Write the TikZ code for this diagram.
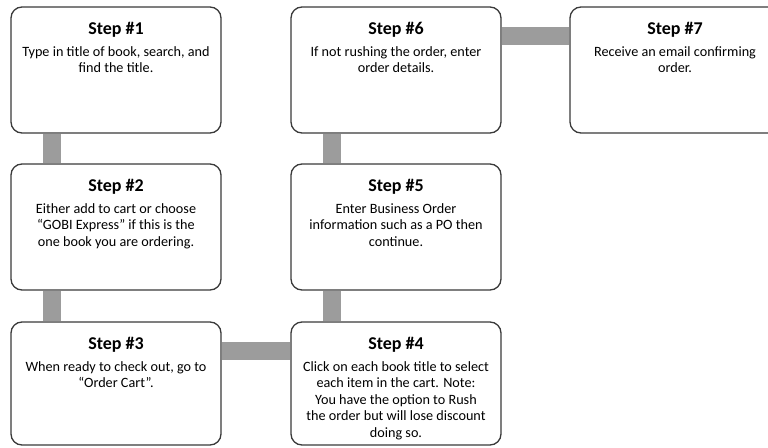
\documentclass[tikz,border=0pt]{standalone}
\usepackage{fontspec}
\setmainfont{Carlito}
\usetikzlibrary{backgrounds}
\definecolor{boxline}{HTML}{3A3A3A}
\definecolor{connfill}{HTML}{9C9C9C}
\begin{document}
\begin{tikzpicture}[x=1pt,y=-1pt,
  stepbox/.style={draw=boxline, line width=1.3pt, rounded corners=11pt, fill=white,
    minimum width=210pt, inner sep=0pt},
  tall/.style={minimum height=126pt},
  short/.style={minimum height=123pt},
  titletext/.style={anchor=base, font=\fontsize{18}{20}\selectfont\bfseries, inner sep=0pt},
  bodytext/.style={anchor=north, align=center, font=\fontsize{14.2}{16.5}\selectfont, inner sep=0pt},
  conn/.style={draw=connfill, line width=18pt}
]
\useasboundingbox (0,0) rectangle (768,447);
\node[stepbox,tall]  (b1) at (116,70)  {};
\node[stepbox,tall]  (b2) at (116,227) {};
\node[stepbox,short] (b3) at (116,383.5) {};
\node[stepbox,short] (b4) at (396,383.5) {};
\node[stepbox,tall]  (b5) at (396,227) {};
\node[stepbox,tall]  (b6) at (396,70)  {};
\node[stepbox,tall]  (b7) at (675,70)  {};

\node[titletext] (t1) at ([yshift=-28.5pt]b1.north) {Step \#1};
\node[titletext] (t2) at ([yshift=-28.5pt]b2.north) {Step \#2};
\node[titletext] (t3) at ([yshift=-28.5pt]b3.north) {Step \#3};
\node[titletext] (t4) at ([yshift=-28.5pt]b4.north) {Step \#4};
\node[titletext] (t5) at ([yshift=-28.5pt]b5.north) {Step \#5};
\node[titletext] (t6) at ([yshift=-28.5pt]b6.north) {Step \#6};
\node[titletext] (t7) at ([yshift=-28.5pt]b7.north) {Step \#7};

\node[bodytext] (d1) at ([yshift=-40pt]b1.north) {Type in title of book, search, and\\find the title.};
\node[bodytext] (d2) at ([yshift=-40pt]b2.north) {Either add to cart or choose\\“GOBI Express” if this is the\\one book you are ordering.};
\node[bodytext] (d3) at ([yshift=-40pt]b3.north) {When ready to check out, go to\\“Order Cart”.};
\node[bodytext] (d4) at ([yshift=-40pt]b4.north) {Click on each book title to select\\each item in the cart. Note:\\You have the option to Rush\\the order but will lose discount\\doing so.};
\node[bodytext] (d5) at ([yshift=-40pt]b5.north) {Enter Business Order\\information such as a PO then\\continue.};
\node[bodytext] (d6) at ([yshift=-40pt]b6.north) {If not rushing the order, enter\\order details.};
\node[bodytext] (d7) at ([yshift=-40pt]b7.north) {Receive an email confirming\\order.};

\begin{scope}[on background layer]
  \draw[conn] ([xshift=42pt]b1.south west) -- ([xshift=42pt]b2.north west);
  \draw[conn] ([xshift=42pt]b2.south west) -- ([xshift=42pt]b3.north west);
  \draw[conn] ([yshift=-30pt]b3.north east) -- ([yshift=-30pt]b4.north west);
  \draw[conn] ([xshift=41.5pt]b4.north west) -- ([xshift=41.5pt]b5.south west);
  \draw[conn] ([xshift=41.5pt]b5.north west) -- ([xshift=41.5pt]b6.south west);
  \draw[conn] ([yshift=-30pt]b6.north east) -- ([yshift=-30pt]b7.north west);
\end{scope}
\end{tikzpicture}
\end{document}
